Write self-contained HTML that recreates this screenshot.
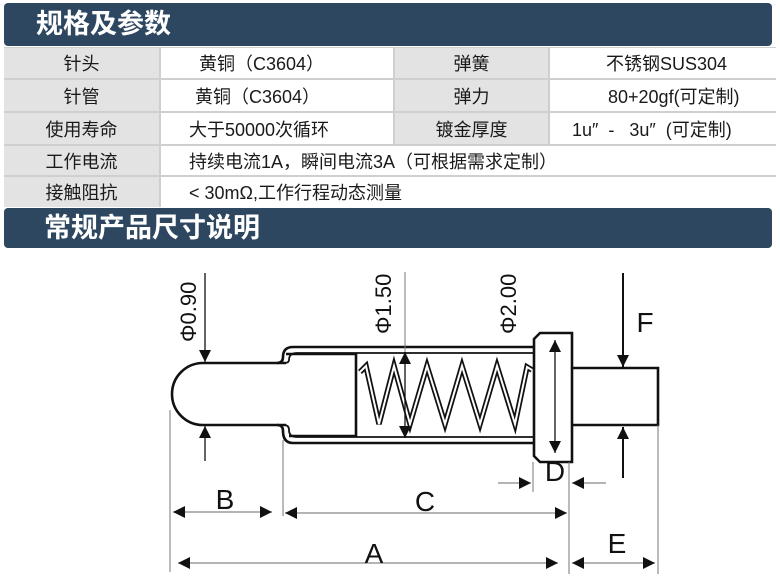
<!DOCTYPE html>
<html><head><meta charset="utf-8"><style>
body{margin:0;width:780px;height:578px;background:#fff;overflow:hidden;font-family:"Liberation Sans","Noto Sans CJK SC",sans-serif;position:relative}
.hd{position:absolute;left:4px;width:768px;background:#2e4760;border-radius:4px;color:#fff;font-weight:bold;font-size:27px;box-sizing:border-box;padding-left:32px}
.c{position:absolute;display:flex;align-items:center;font-size:18px;color:#1a1a1a;box-sizing:border-box}
.g{background:#e3e3e3;justify-content:center}
.w{background:#fff}
</style></head><body>
<div class="hd" style="top:3px;height:43px;line-height:43px">规格及参数</div>
<div style="position:absolute;left:4px;top:47px;width:772px;height:160px;background:#cfcfcf"></div>

<div class="c g" style="left:4px;top:48px;width:155px;height:30px">针头</div>
<div class="c w" style="left:161px;top:48px;width:232px;height:30px;padding-left:38px">黄铜（C3604）</div>
<div class="c g" style="left:395px;top:48px;width:153px;height:30px">弹簧</div>
<div class="c w" style="left:550px;top:48px;width:226px;height:30px;padding-left:56px">不锈钢SUS304</div>

<div class="c g" style="left:4px;top:80px;width:155px;height:31px">针管</div>
<div class="c w" style="left:161px;top:80px;width:232px;height:31px;padding-left:34px">黄铜（C3604）</div>
<div class="c g" style="left:395px;top:80px;width:153px;height:31px">弹力</div>
<div class="c w" style="left:550px;top:80px;width:226px;height:31px;padding-left:58px">80+20gf(可定制)</div>

<div class="c g" style="left:4px;top:113px;width:155px;height:31px">使用寿命</div>
<div class="c w" style="left:161px;top:113px;width:232px;height:31px;padding-left:28px">大于50000次循环</div>
<div class="c g" style="left:395px;top:113px;width:153px;height:31px">镀金厚度</div>
<div class="c w" style="left:550px;top:113px;width:226px;height:31px;padding-left:22px;white-space:pre">1u″  -   3u″  (可定制)</div>

<div class="c g" style="left:4px;top:146px;width:155px;height:29px">工作电流</div>
<div class="c w" style="left:161px;top:146px;width:615px;height:29px;padding-left:28px">持续电流1A，瞬间电流3A（可根据需求定制）</div>

<div class="c g" style="left:4px;top:177px;width:155px;height:30px">接触阻抗</div>
<div class="c w" style="left:161px;top:177px;width:615px;height:30px;padding-left:28px">&lt; 30mΩ,工作行程动态测量</div>

<div class="hd" style="top:208px;height:40px;line-height:40px;padding-left:40px">常规产品尺寸说明</div>

<svg style="position:absolute;left:0;top:0" width="780" height="578" viewBox="0 0 780 578">
<defs>
<marker id="al" viewBox="0 0 10 10" refX="10" refY="5" markerWidth="20" markerHeight="12" markerUnits="userSpaceOnUse" orient="auto-start-reverse"><path d="M0,0L10,5L0,10z" fill="#111"/></marker>
</defs>
<g fill="none" stroke="#111" stroke-width="2.6">
<path d="M533,347 H293 Q283,347 283,357 Q283,363 277,363 M277,425 Q283,425 283,431 Q283,443 293,443 H533"/>
<path d="M533,353 H297 Q289,353 289,360 Q289,363 284,363" stroke-width="1.8"/>
<path d="M284,425 Q289,425 289,430 Q289,437 297,437 H533" stroke-width="1.8"/>
<path d="M286,363 H203 A31,31 0 0 0 203,425 H286"/>
<path d="M286,354 H356 V436 H289"/>
<path d="M540,333 H572 V462 H540 L534,456 V339 Z"/>
<path d="M572,368 H658 V425 H572"/>
<path d="M360,372 L366,366 L379,424 L394,366 L410,424 L427,366 L445,424 L462,366 L480,424 L497,366 L515,424 L527,367 L532,370" stroke-width="5.5" stroke-linejoin="miter"/>
<path d="M360,372 L366,366 L379,424 L394,366 L410,424 L427,366 L445,424 L462,366 L480,424 L497,366 L515,424 L527,367 L532,370" stroke="#fff" stroke-width="2"/>
</g>
<g stroke="#777" stroke-width="1">
<line x1="170" y1="410" x2="170" y2="572"/>
<line x1="283" y1="440" x2="283" y2="516"/>
<line x1="533" y1="462" x2="533" y2="492"/>
<line x1="569" y1="462" x2="569" y2="574"/>
<line x1="658" y1="425" x2="658" y2="574"/>
<line x1="405" y1="272" x2="405" y2="352"/>
</g>
<g stroke="#111" stroke-width="1.3" fill="none">
<line x1="205" y1="273" x2="205" y2="362" marker-end="url(#al)"/>
<line x1="205" y1="461" x2="205" y2="426" marker-end="url(#al)"/>
<line x1="405" y1="395" x2="405" y2="352" marker-end="url(#al)"/>
<line x1="405" y1="395" x2="405" y2="438" marker-end="url(#al)"/>
<line x1="555" y1="398" x2="555" y2="340" marker-end="url(#al)"/>
<line x1="555" y1="398" x2="555" y2="453" marker-end="url(#al)"/>
<line x1="623" y1="273" x2="623" y2="367" marker-end="url(#al)" stroke-width="2"/>
<line x1="623" y1="478" x2="623" y2="427" marker-end="url(#al)" stroke-width="2"/>
<line x1="222" y1="512" x2="173" y2="512" marker-end="url(#al)" stroke="#888"/>
<line x1="222" y1="512" x2="272" y2="512" marker-end="url(#al)" stroke="#888"/>
<line x1="425" y1="513" x2="285" y2="513" marker-end="url(#al)" stroke="#888"/>
<line x1="425" y1="513" x2="567" y2="513" marker-end="url(#al)" stroke="#888"/>
<line x1="370" y1="563" x2="178" y2="563" marker-end="url(#al)" stroke="#888"/>
<line x1="370" y1="563" x2="558" y2="563" marker-end="url(#al)" stroke="#888"/>
<line x1="614" y1="563" x2="572" y2="563" marker-end="url(#al)" stroke="#888"/>
<line x1="614" y1="563" x2="655" y2="563" marker-end="url(#al)" stroke="#888"/>
<line x1="498" y1="483" x2="531" y2="483" marker-end="url(#al)" stroke="#888"/>
<line x1="606" y1="483" x2="572" y2="483" marker-end="url(#al)" stroke="#888"/>
</g>
<g font-family="Liberation Sans, sans-serif" fill="#111">
<text x="225" y="509" font-size="28" text-anchor="middle">B</text>
<text x="425" y="511" font-size="28" text-anchor="middle">C</text>
<text x="374" y="563" font-size="28" text-anchor="middle">A</text>
<text x="617" y="553" font-size="28" text-anchor="middle">E</text>
<text x="555" y="481" font-size="28" text-anchor="middle">D</text>
<text x="645" y="332" font-size="28" text-anchor="middle">F</text>
<text transform="translate(196,342) rotate(-90)" font-size="22">Φ0.90</text>
<text transform="translate(391,334) rotate(-90)" font-size="22">Φ1.50</text>
<text transform="translate(516,334) rotate(-90)" font-size="22">Φ2.00</text>
</g>
</svg>
</body></html>
